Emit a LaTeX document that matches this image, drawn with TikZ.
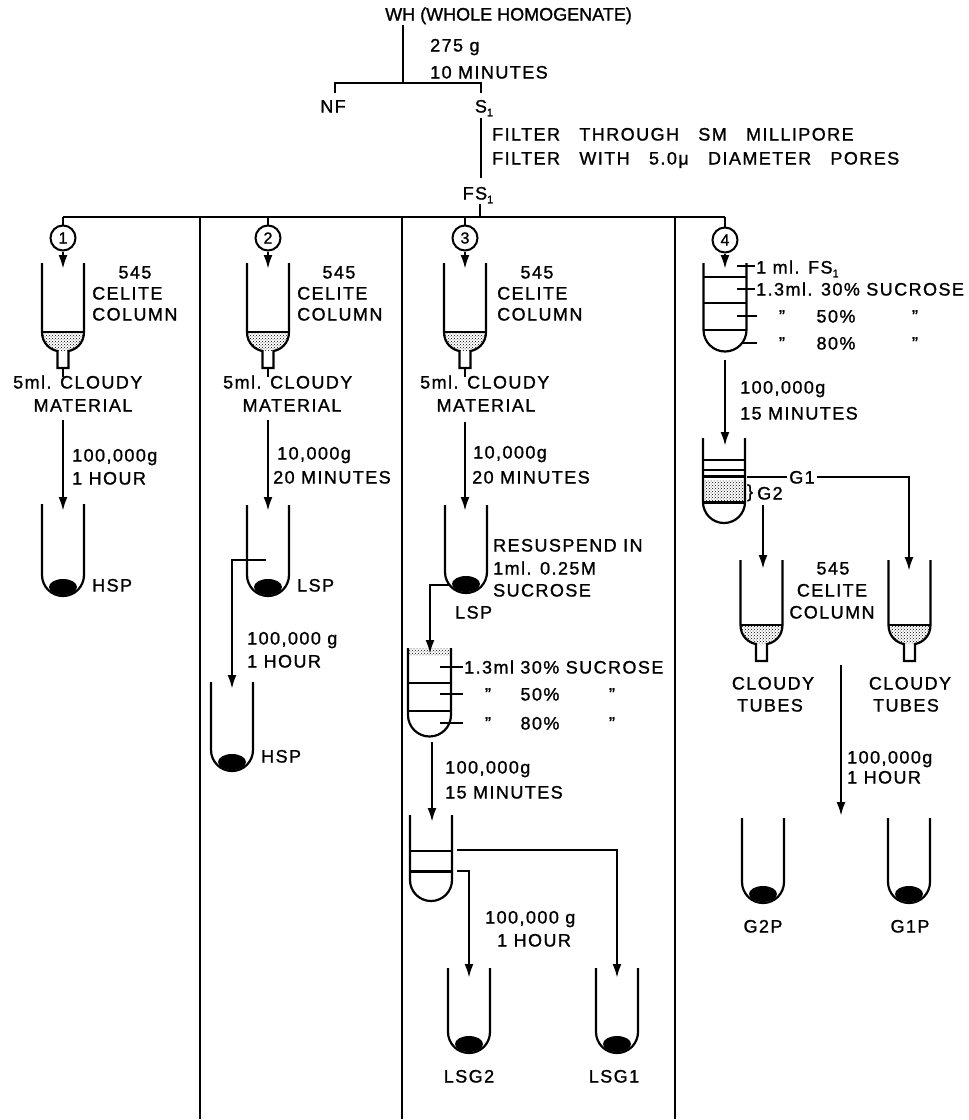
\documentclass[tikz,border=0pt]{standalone}
\usepackage{fontspec}
\setmainfont{Liberation Sans}[LetterSpace=8,FakeBold=1.2]
\newfontfamily\titlefont{Liberation Sans}[FakeBold=1.2]
\newfontfamily\widefont{Liberation Sans}[LetterSpace=8,WordSpace=3,FakeBold=1.2]
\usetikzlibrary{arrows.meta,patterns}
\newcommand\lab{\fontsize{18}{21}\selectfont}
\newcommand\lsub[1]{\raisebox{-0.4ex}{\fontsize{11}{11}\selectfont #1}}
% test tube: x, top, end of straight walls
\newcommand\ttube[3]{\draw[wall] (#1-21,#2) -- (#1-21,#3) arc[start angle=180,end angle=360,radius=21pt] -- (#1+21,#2);}
\newcommand\pellet[2]{\fill (#1,#2+12) ellipse[x radius=14pt,y radius=8pt];}
% gradient tube: x, top, end of straight walls (half width 21.5)
\newcommand\gtube[3]{\draw[wall] (#1-21.5,#2) -- (#1-21.5,#3) arc[start angle=180,end angle=360,radius=21.5pt] -- (#1+21.5,#2);}
% celite column: x, top, bowl line
\newcommand\celite[3]{%
  \fill[pattern=crosshatch dots] (#1-21,#3) .. controls (#1-21,#3+12) and (#1-12,#3+18) .. (#1-5.5,#3+19) -- (#1+5.5,#3+19) .. controls (#1+12,#3+18) and (#1+21,#3+12) .. (#1+21,#3) -- cycle;
  \draw[wall] (#1-21,#2) -- (#1-21,#3) .. controls (#1-21,#3+12) and (#1-12,#3+18) .. (#1-5.5,#3+19) -- (#1-5.5,#3+36) -- (#1+5.5,#3+36) -- (#1+5.5,#3+19) .. controls (#1+12,#3+18) and (#1+21,#3+12) .. (#1+21,#3) -- (#1+21,#2);
  \draw[wall] (#1-21,#3) -- (#1+21,#3);}
\begin{document}
\begin{tikzpicture}[x=1pt,y=-1pt,
  t/.style={inner sep=0pt,text height=13pt,text depth=0pt,font=\lab},
  tw/.style={t,anchor=west},
  wall/.style={line width=2.2pt},
  flow/.style={line width=2.8pt},
  sepline/.style={line width=1.3pt},
  arr/.style={line width=2.4pt,-{Latex[length=14pt,width=9pt]}},
  num/.style={circle,draw,line width=2pt,minimum size=25pt,inner sep=0pt,font=\fontsize{16}{16}\selectfont},
  tick/.style={line width=1.5pt}
]
\useasboundingbox (0,0) rectangle (969,1120);

% ---------- top ----------
\node[tw,font=\lab\titlefont] (wh) at (385,14) {WH (WHOLE HOMOGENATE)};
\coordinate (whb) at (403,25);
\coordinate (sp) at (403,83);
\draw[flow] (whb) -- (sp);
\node[tw] (g275) at (430,45) {275 g};
\node[tw] (m10) at (430,72) {10 MINUTES};
\node[t] (nf) at (333,106) {NF};
\node[t] (s1) at (484,106) {S\lsub{1}};
\coordinate (nft) at (335,93);
\coordinate (s1t) at (481,93);
\draw[flow] (nft) |- (sp) -| (s1t);
\coordinate (s1b) at (481,118);
\coordinate (fsa) at (481,178);
\draw[flow] (s1b) -- (fsa);
\node[tw,font=\lab\widefont] (f1) at (492,134) {FILTER THROUGH SM MILLIPORE};
\node[tw,font=\lab\widefont] (f2) at (492,158) {FILTER WITH 5.0μ DIAMETER PORES};
\node[t] (fs1) at (478,193) {FS\lsub{1}};
\coordinate (fsb) at (480,204);
\coordinate (fsc) at (480,217);
\draw[flow] (fsb) -- (fsc);
\coordinate (b1) at (63,217);
\coordinate (b2) at (268,217);
\coordinate (b3) at (465,217);
\coordinate (b4) at (725,217);
\draw[flow] (b1) -- (b4);
% separators
\draw[sepline] (200,217) -- (200,1119);
\draw[sepline] (402,217) -- (402,1119);
\draw[sepline] (675,217) -- (675,1119);

% ---------- column 1 ----------
\node[num] (c1) at (63,238) {1};
\draw[flow] (b1) -- (c1.north);
\coordinate (k1) at (63,269);
\draw[arr] (c1.south) -- (k1);
\celite{63}{263}{332}
\node[t] (n545a) at (135,272) {545};
\node[tw] (cela) at (92,293) {CELITE};
\node[tw] (cola) at (92,314) {COLUMN};
\draw[wall] (63,367) -- (63,377);
\node[tw] (cla) at (13,382) {5ml. CLOUDY};
\node[t] (mata) at (83,405) {MATERIAL};
\coordinate (a1s) at (63,420);
\coordinate (a1e) at (63,511);
\draw[arr] (a1s) -- (a1e);
\node[tw] (ga) at (72,455) {100,000g};
\node[tw] (ha) at (72,478) {1 HOUR};
\ttube{63}{504}{575}
\pellet{63}{575}
\node[tw] (hspa) at (92,585) {HSP};

% ---------- column 2 ----------
\node[num] (c2) at (268,238) {2};
\draw[flow] (b2) -- (c2.north);
\coordinate (k2) at (268,269);
\draw[arr] (c2.south) -- (k2);
\celite{268}{263}{332}
\node[t] (n545b) at (339,272) {545};
\node[tw] (celb) at (297,293) {CELITE};
\node[tw] (colb) at (297,314) {COLUMN};
\draw[wall] (268,367) -- (268,377);
\node[tw] (clb) at (223,382) {5ml. CLOUDY};
\node[t] (matb) at (292,405) {MATERIAL};
\coordinate (a2s) at (268,420);
\coordinate (a2e) at (268,511);
\draw[arr] (a2s) -- (a2e);
\node[tw] (gb) at (277,453) {10,000g};
\node[tw] (mb) at (273,477) {20 MINUTES};
\ttube{268}{505}{575}
\pellet{268}{575}
\node[tw] (lspb) at (297,585) {LSP};
\coordinate (r2s) at (266,560);
\coordinate (r2c) at (232,560);
\coordinate (r2e) at (232,689);
\draw[arr] (r2s) -- (r2c) -- (r2e);
\node[tw] (gb2) at (247,638) {100,000 g};
\node[tw] (hb2) at (247,661) {1 HOUR};
\ttube{232}{682}{750}
\pellet{232}{750}
\node[tw] (hspb) at (261,756) {HSP};

% ---------- column 3 ----------
\node[num] (c3) at (465,238) {3};
\draw[flow] (b3) -- (c3.north);
\coordinate (k3) at (465,269);
\draw[arr] (c3.south) -- (k3);
\celite{465}{263}{332}
\node[t] (n545c) at (537,272) {545};
\node[tw] (celc) at (497,293) {CELITE};
\node[tw] (colc) at (497,314) {COLUMN};
\draw[wall] (465,367) -- (465,377);
\node[tw] (clc) at (420,382) {5ml. CLOUDY};
\node[t] (matc) at (486,405) {MATERIAL};
\coordinate (a3s) at (465,422);
\coordinate (a3e) at (465,511);
\draw[arr] (a3s) -- (a3e);
\node[tw] (gc) at (473,452) {10,000g};
\node[tw] (mc) at (472,477) {20 MINUTES};
\ttube{466}{505}{572}
\pellet{466}{572}
\node[tw] (res1) at (493,545) {RESUSPEND IN};
\node[tw] (res2) at (493,568) {1ml. 0.25M};
\node[tw] (res3) at (493,590) {SUCROSE};
\node[tw] (lspc) at (455,612) {LSP};
\coordinate (r3s) at (450,585);
\coordinate (r3c) at (430,585);
\coordinate (r3e) at (430,654);
\draw[arr] (r3s) -- (r3c) -- (r3e);
% gradient tube column 3
\fill[pattern=crosshatch dots] (408,648) rectangle (451,655);
\gtube{429.5}{648}{715}
\draw[wall] (408,683) -- (451,683);
\draw[wall] (408,711) -- (451,711);
\draw[tick] (440,667) -- (463,667);
\draw[tick] (440,694) -- (463,694);
\draw[tick] (440,723) -- (463,723);
\node[tw] (suc3a) at (464,667) {1.3ml 30\% SUCROSE};
\node[t] (q3a) at (488,694) {"};
\node[t] (p3a) at (540,694) {50\%};
\node[t] (q3b) at (612,694) {"};
\node[t] (q3c) at (488,723) {"};
\node[t] (p3b) at (540,723) {80\%};
\node[t] (q3d) at (612,723) {"};
\coordinate (a3bs) at (432,742);
\coordinate (a3be) at (432,822);
\draw[arr] (a3bs) -- (a3be);
\node[tw] (gc2) at (445,767) {100,000g};
\node[tw] (mc2) at (445,792) {15 MINUTES};
% centrifuged tube column 3
\ttube{431}{815}{880}
\draw[wall] (410,851) -- (452,851);
\draw[line width=3pt] (410,871) -- (452,871);
\coordinate (g1s) at (457,850);
\coordinate (g1c) at (617,850);
\coordinate (g1e) at (617,978);
\draw[arr] (g1s) -- (g1c) -- (g1e);
\coordinate (g2s) at (457,871);
\coordinate (g2c) at (469,871);
\coordinate (g2e) at (469,978);
\draw[arr] (g2s) -- (g2c) -- (g2e);
\node[tw] (gc3) at (485,917) {100,000 g};
\node[tw] (hc3) at (497,940) {1 HOUR};
\ttube{469}{968}{1032}
\pellet{469}{1032}
\ttube{617}{968}{1032}
\pellet{617}{1032}
\node[t] (lsg2) at (469,1076) {LSG2};
\node[t] (lsg1) at (614,1076) {LSG1};

% ---------- column 4 ----------
\node[num] (c4) at (725,240) {4};
\draw[flow] (b4) -- (c4.north);
\coordinate (k4) at (725,269);
\draw[arr] (c4.south) -- (k4);
\gtube{725}{263}{330}
\draw[wall] (703.5,277) -- (746.5,277);
\draw[wall] (703.5,303) -- (746.5,303);
\draw[wall] (703.5,330) -- (746.5,330);
\draw[tick] (737,266) -- (755,266);
\draw[tick] (737,289) -- (755,289);
\draw[tick] (737,316) -- (757,316);
\draw[tick] (742,343) -- (757,343);
\node[tw] (fs1b) at (756,267) {1 ml. FS\lsub{1}};
\node[tw] (suc4a) at (756,289) {1.3ml. 30\% SUCROSE};
\node[t] (q4a) at (782,316) {"};
\node[t] (p4a) at (836,316) {50\%};
\node[t] (q4b) at (915,316) {"};
\node[t] (q4c) at (782,343) {"};
\node[t] (p4b) at (836,343) {80\%};
\node[t] (q4d) at (915,343) {"};
\coordinate (a4s) at (725,360);
\coordinate (a4e) at (725,446);
\draw[arr] (a4s) -- (a4e);
\node[tw] (gd) at (740,387) {100,000g};
\node[tw] (md) at (740,413) {15 MINUTES};
% centrifuged tube column 4
\fill[pattern=crosshatch dots] (703,480) rectangle (745,500);
\ttube{724}{438}{502}
\draw[wall] (703,460) -- (745,460);
\draw[wall] (703,470) -- (745,470);
\draw[line width=3pt] (703,476) -- (745,476);
\draw[line width=3pt] (703,502) -- (745,502);
\node[t] (g1lab) at (802,477) {G1};
\coordinate (g1a) at (747,477);
\coordinate (g1b) at (909,477);
\coordinate (g1d) at (909,571);
\draw[line width=2.4pt] (g1a) -- ([xshift=-2pt]g1lab.west);
\draw[arr] ([xshift=2pt]g1lab.east) -- (g1b) -- (g1d);
\node[t,font=\fontsize{18}{18}\selectfont] (brace) at (750,491) {\}};
\node[tw] (g2lab) at (757,493) {G2};
\coordinate (g2a) at (763,505);
\coordinate (g2b) at (763,569);
\draw[arr] (g2a) -- (g2b);
\celite{761.5}{560}{625}
\celite{909.5}{560}{625}
\node[t] (n545d) at (833,568) {545};
\node[t] (celd) at (832,590) {CELITE};
\node[t] (cold) at (832,612) {COLUMN};
\node[t] (cla4) at (773,683) {CLOUDY};
\node[t] (tba4) at (770,705) {TUBES};
\node[t] (clb4) at (910,683) {CLOUDY};
\node[t] (tbb4) at (906,705) {TUBES};
\coordinate (a4bs) at (841,665);
\coordinate (a4be) at (841,816);
\draw[arr] (a4bs) -- (a4be);
\node[tw] (gd2) at (847,757) {100,000g};
\node[tw] (hd2) at (847,777) {1 HOUR};
\ttube{763}{818}{882}
\pellet{763}{882}
\ttube{909}{818}{882}
\pellet{909}{882}
\node[t] (g2p) at (763,926) {G2P};
\node[t] (g1p) at (910,926) {G1P};
\end{tikzpicture}
\end{document}
